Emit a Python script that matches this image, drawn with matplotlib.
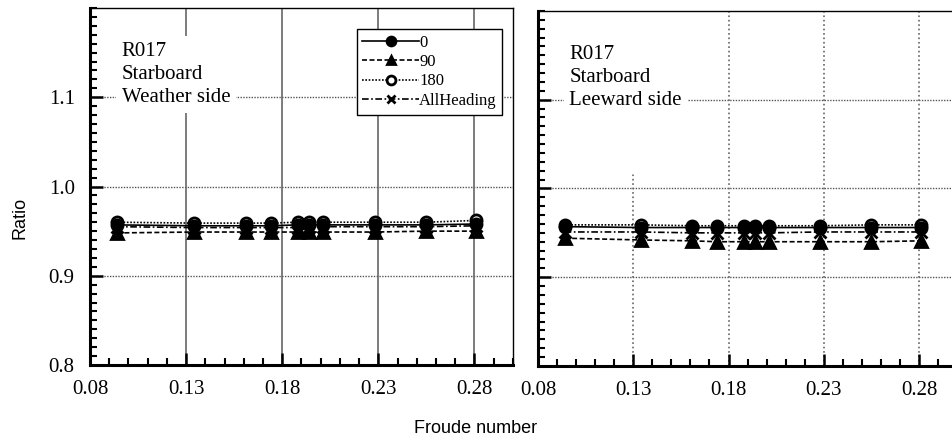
import numpy as np
import matplotlib
matplotlib.use('Agg')
import matplotlib.pyplot as plt
from matplotlib.ticker import MultipleLocator, FixedLocator

froude = [0.094, 0.134, 0.161, 0.174, 0.188, 0.194, 0.201, 0.228, 0.255, 0.281]

# weather side
w_0 = [0.957, 0.956, 0.956, 0.956, 0.957, 0.957, 0.957, 0.957, 0.957, 0.958]
w_90 = [0.948, 0.949, 0.949, 0.949, 0.949, 0.949, 0.949, 0.949, 0.950, 0.950]
w_180 = [0.960, 0.959, 0.959, 0.959, 0.960, 0.960, 0.960, 0.960, 0.960, 0.962]
w_all = [0.955, 0.954, 0.954, 0.954, 0.954, 0.955, 0.955, 0.955, 0.955, 0.956]

# leeward side
l_0 = [0.957, 0.956, 0.956, 0.956, 0.956, 0.956, 0.956, 0.956, 0.956, 0.956]
l_90 = [0.944, 0.942, 0.941, 0.940, 0.940, 0.940, 0.940, 0.940, 0.940, 0.941]
l_180 = [0.959, 0.959, 0.958, 0.958, 0.958, 0.958, 0.958, 0.958, 0.959, 0.959]
l_all = [0.951, 0.951, 0.950, 0.950, 0.950, 0.950, 0.950, 0.951, 0.951, 0.951]

labels = ['0', '90', '180', 'AllHeading']
titles = ['R017\nStarboard\nWeather side', 'R017\nStarboard\nLeeward side']

serif = 'Liberation Serif'
sans = 'Liberation Sans'

styles = [
    dict(ls='-', marker='o', mfc='black', mec='black', zorder=4),
    dict(ls=(0, (3, 1.5)), marker='^', mfc='black', mec='black', zorder=4),
    dict(ls=(0, (1, 1)), marker='o', mfc='white', mec='black', zorder=3),
    dict(ls=(0, (4, 1.5, 1, 1.5)), marker='x', mfc='black', mec='black', zorder=5),
]

fig = plt.figure(figsize=(9.52, 4.46), dpi=100)
ax1 = fig.add_axes([0.0945, 0.1816, 0.4443, 0.8004])
ax2 = fig.add_axes([0.5651, 0.1794, 0.4403, 0.7960])

panels = [(ax1, [w_0, w_90, w_180, w_all], '-'), (ax2, [l_0, l_90, l_180, l_all], ':')]

for i, (ax, series, vgrid) in enumerate(panels):
    for vals, lab, st in zip(series, labels, styles):
        ax.plot(froude, vals, color='black', lw=1.2, ms=8, mew=2,
                label=lab, **st)
    ax.set_xlim(0.08, 0.30)
    ax.set_ylim(0.8, 1.2)
    ax.xaxis.set_major_locator(FixedLocator([0.08, 0.13, 0.18, 0.23, 0.28]))
    ax.xaxis.set_minor_locator(MultipleLocator(0.01))
    ax.yaxis.set_major_locator(FixedLocator([0.8, 0.9, 1.0, 1.1]))
    ax.yaxis.set_minor_locator(MultipleLocator(0.01))
    ax.tick_params(which='major', direction='in', length=9, width=1.8,
                   top=False, right=False, labelsize=15, pad=11)
    ax.tick_params(which='minor', direction='in', length=5, width=1.5,
                   top=False, right=False)
    ax.set_xticklabels(['0.08', '0.13', '0.18', '0.23', '0.28'], family=serif)
    if i == 0:
        ax.set_yticklabels(['0.8', '0.9', '1.0', '1.1'], family=serif)
    else:
        ax.set_yticklabels([])
    for ln in [0.9, 1.0, 1.1]:
        ax.axhline(ln, color='#555555', lw=1, ls=(0, (1, 1)), zorder=1)
    for vl in [0.13, 0.18, 0.23, 0.28]:
        ax.axvline(vl, color='#666666', lw=1.2, ls=vgrid, zorder=1)
    ax.spines['left'].set_linewidth(2.2)
    ax.spines['bottom'].set_linewidth(2.2)
    ax.spines['top'].set_linewidth(1)
    ax.spines['right'].set_linewidth(1)
    ax.text(0.075, 0.905, titles[i], transform=ax.transAxes, family=serif,
            fontsize=15, va='top', ha='left', linespacing=1.3, zorder=6,
            bbox=dict(facecolor='white', edgecolor='none', pad=4))

# blank patch over the top of the 0.13 line in the right panel, as in the source
ax2.axvspan(0.125, 0.135, ymin=0.545, ymax=1.0, color='white', zorder=2)

leg = ax1.legend(loc='upper right', bbox_to_anchor=(0.995, 0.965),
                 prop={'family': serif, 'size': 12}, markerscale=0.8,
                 handlelength=3.4, handletextpad=0.0, labelspacing=0.2,
                 borderpad=0.35, fancybox=False, edgecolor='black', framealpha=1)
leg.get_frame().set_linewidth(1)
leg.set_zorder(7)

fig.text(0.012, 0.511, 'Ratio', rotation=90, va='center', ha='left', family=sans, fontsize=13)
fig.text(0.5, 0.02, 'Froude number', va='bottom', ha='center', family=sans, fontsize=13)

fig.savefig('out.png', dpi=100)
